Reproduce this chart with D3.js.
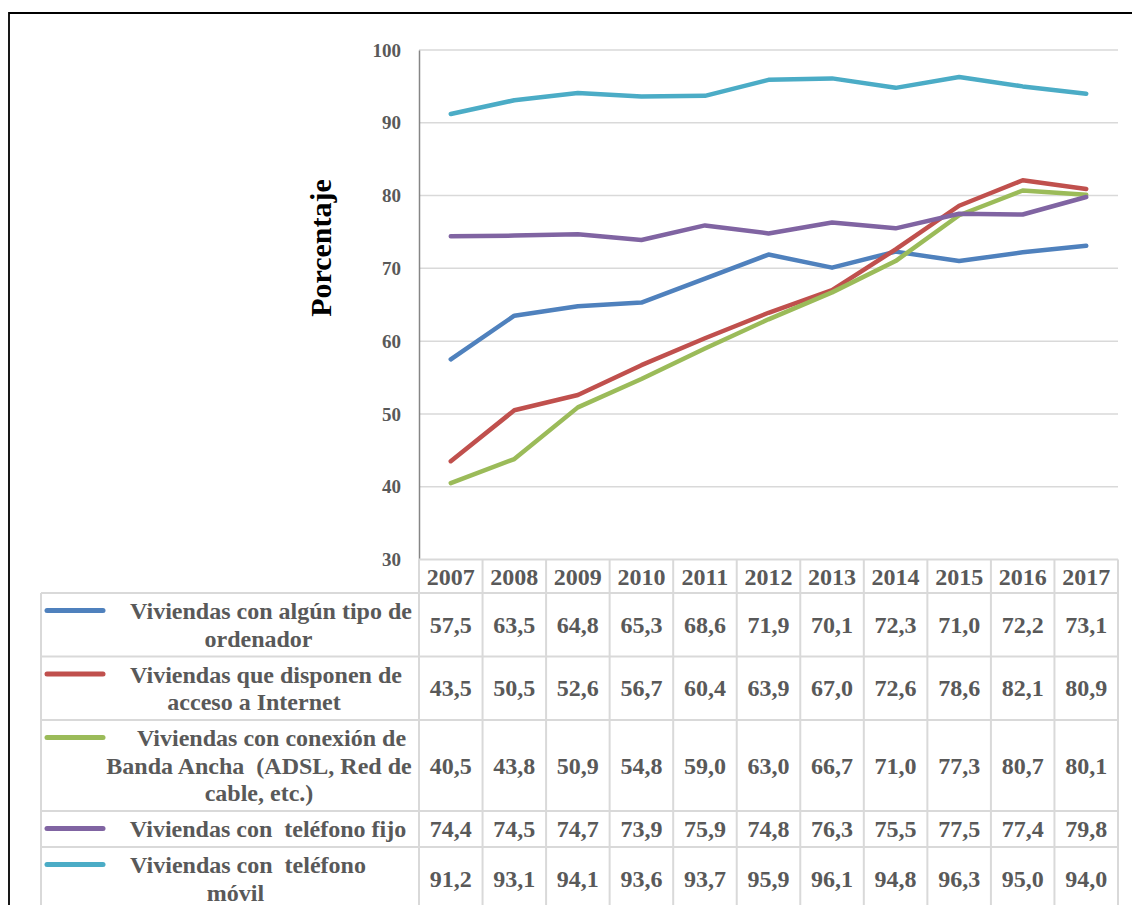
<!DOCTYPE html>
<html><head><meta charset="utf-8">
<script src="https://cdn.jsdelivr.net/npm/d3@7"></script>
<style>
body{margin:0;background:#fff}
svg{display:block}
text{font-family:"Liberation Serif","Times New Roman",serif;font-weight:bold}
</style>
</head><body>
<svg id="c" width="1132" height="905"></svg>
<script>
// ---------- data ----------
const years = ["2007","2008","2009","2010","2011","2012","2013","2014","2015","2016","2017"];
const yTicks = [30,40,50,60,70,80,90,100];
const labelOrdenador = ["Viviendas con algún tipo de","ordenador"];
const labelInternet  = ["Viviendas que disponen de","acceso a Internet"];
const labelBanda     = ["Viviendas con conexión de","Banda Ancha  (ADSL, Red de","cable, etc.)"];
const labelFijo      = ["Viviendas con  teléfono fijo"];
const labelMovil     = ["Viviendas con  teléfono","móvil"];
const valOrdenador = [57.5,63.5,64.8,65.3,68.6,71.9,70.1,72.3,71.0,72.2,73.1];
const valInternet  = [43.5,50.5,52.6,56.7,60.4,63.9,67.0,72.6,78.6,82.1,80.9];
const valBanda     = [40.5,43.8,50.9,54.8,59.0,63.0,66.7,71.0,77.3,80.7,80.1];
const valFijo      = [74.4,74.5,74.7,73.9,75.9,74.8,76.3,75.5,77.5,77.4,79.8];
const valMovil     = [91.2,93.1,94.1,93.6,93.7,95.9,96.1,94.8,96.3,95.0,94.0];
const yTitle = "Porcentaje";

// ---------- styles / layout ----------
const colors = ["#4F81BD","#C0504D","#9BBB59","#8064A2","#4BACC6"];
const series = [
  {label:labelOrdenador, values:valOrdenador},
  {label:labelInternet,  values:valInternet},
  {label:labelBanda,     values:valBanda},
  {label:labelFijo,      values:valFijo},
  {label:labelMovil,     values:valMovil}
];
// per-line horizontal centres of legend text (layout)
const lineCenters = [[271,258.5],[266,254],[271.5,259,259],[268],[248,235.5]];

const svg = d3.select("#c");
const plotL = 419, plotR = 1118, plotT = 50, plotB = 559.5;
const legL = 41;
const textCol = "#595959", gridCol = "#D9D9D9";
const fs = 24, lineH = 27.5;

const x = d3.scaleBand().domain(years).range([plotL, plotR]);
const y = d3.scaleLinear().domain([30,100]).range([plotB, plotT]);

// outer frame
svg.append("path").attr("d","M9,905 L9,13 L1132,13")
  .attr("fill","none").attr("stroke","#000").attr("stroke-width",1.8);

// gridlines
svg.append("g").selectAll("line").data(yTicks.filter(t=>t>30)).join("line")
  .attr("x1",plotL).attr("x2",plotR)
  .attr("y1",d=>y(d)).attr("y2",d=>y(d))
  .attr("stroke",gridCol).attr("stroke-width",1.5);

// y axis
const yAxis = d3.axisLeft(y).tickValues(yTicks).tickSize(0).tickPadding(18).tickFormat(d3.format("d"));
const ga = svg.append("g").attr("transform",`translate(${plotL},0)`).call(yAxis);
ga.select(".domain").attr("stroke","#868686").attr("stroke-width",1.5);
ga.selectAll("text").attr("fill",textCol).attr("font-size",19)
  .style("font-family","'Liberation Serif',serif").style("font-weight","bold");

// y title
svg.append("text").attr("transform",`translate(331,248) rotate(-90)`)
  .attr("text-anchor","middle").attr("font-size",30).attr("fill","#000").text(yTitle);

// table geometry
const headerTop = plotB, headerH = 33.5;
const rowH = series.map(s => 8.5 + lineH*s.label.length);
const rowTop = [];
let acc = headerTop + headerH;
rowH.forEach(h => { rowTop.push(acc); acc += h; });
const tableBottom = acc;

const tg = svg.append("g");
// header cells
tg.append("line").attr("x1",plotL).attr("x2",plotR).attr("y1",headerTop).attr("y2",headerTop)
  .attr("stroke",gridCol).attr("stroke-width",2);
tg.selectAll(".hdr").data(years).join("text")
  .attr("x",d=>x(d)+x.bandwidth()/2).attr("y",headerTop+headerH/2+8.5)
  .attr("text-anchor","middle").attr("font-size",fs).attr("fill",textCol).text(d=>d);
// horizontal row lines
const hLines = [rowTop[0], ...rowTop.map((t,i)=>t+rowH[i])];
tg.selectAll(".hl").data(hLines).join("line")
  .attr("x1",legL).attr("x2",plotR).attr("y1",d=>d).attr("y2",d=>d)
  .attr("stroke",gridCol).attr("stroke-width",2);
// vertical lines
const vx = [...years.map(d=>x(d)), plotR];
tg.selectAll(".vl").data(vx).join("line")
  .attr("x1",d=>d).attr("x2",d=>d).attr("y1",headerTop).attr("y2",tableBottom)
  .attr("stroke",gridCol).attr("stroke-width",2);
tg.append("line").attr("x1",legL).attr("x2",legL).attr("y1",rowTop[0]).attr("y2",tableBottom)
  .attr("stroke",gridCol).attr("stroke-width",2);

// rows
series.forEach((s,i)=>{
  const top = rowTop[i], h = rowH[i], cy = top + h/2;
  svg.append("line").attr("x1",47).attr("x2",103).attr("y1",top+17.5).attr("y2",top+17.5)
    .attr("stroke",colors[i]).attr("stroke-width",5).attr("stroke-linecap","round");
  const n = s.label.length;
  s.label.forEach((ln,j)=>{
    svg.append("text").attr("x",lineCenters[i][j])
      .attr("y",cy + 8 + (j-(n-1)/2)*lineH)
      .attr("text-anchor","middle").attr("font-size",fs).attr("fill",textCol)
      .style("white-space","pre").text(ln);
  });
  svg.append("g").selectAll("text").data(s.values).join("text")
    .attr("x",(d,k)=>x(years[k])+x.bandwidth()/2).attr("y",cy+8)
    .attr("text-anchor","middle").attr("font-size",fs).attr("fill",textCol)
    .text(d=>d.toFixed(1).replace(".",","));
});

// lines
const line = d3.line().x((d,k)=>x(years[k])+x.bandwidth()/2).y(d=>y(d));
svg.append("g").selectAll("path").data(series).join("path")
  .attr("d",d=>line(d.values)).attr("fill","none")
  .attr("stroke",(d,i)=>colors[i]).attr("stroke-width",4.5)
  .attr("stroke-linecap","round").attr("stroke-linejoin","round");
</script>
</body></html>
